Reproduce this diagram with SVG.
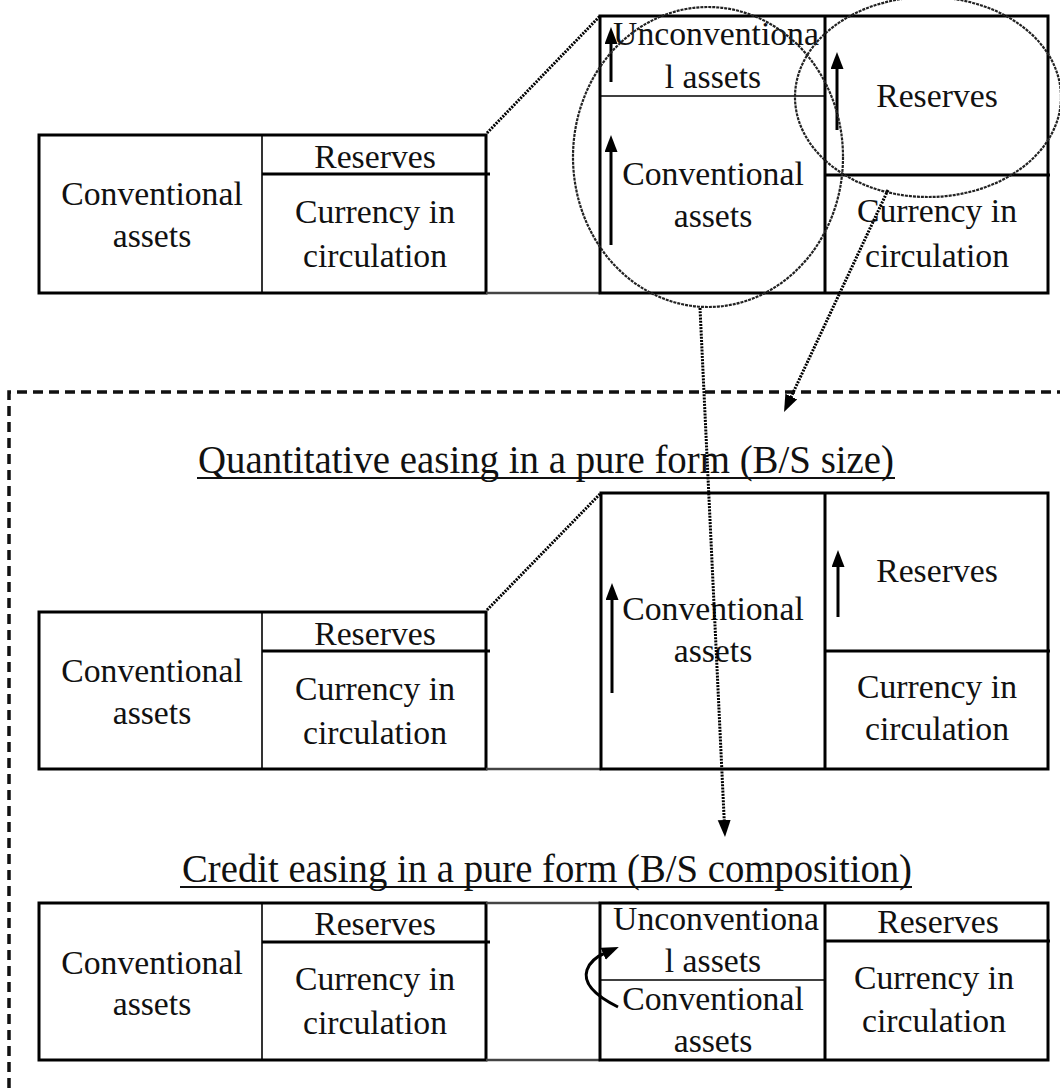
<svg xmlns="http://www.w3.org/2000/svg" width="1060" height="1088" viewBox="0 0 1060 1088">
<style>
.t{font-family:"Liberation Serif","Times New Roman",serif;font-size:33.7px;fill:#111;text-anchor:middle}
.ttl{font-family:"Liberation Serif","Times New Roman",serif;font-size:39px;fill:#111}
.ob{fill:none;stroke:#000;stroke-width:3}
.thk{stroke:#000;stroke-width:3}
.thn{stroke:#000;stroke-width:1.6}
.gl{stroke:#444;stroke-width:2.5}
.arr{stroke:#000;stroke-width:3;fill:none;marker-end:url(#ah)}
.dot{stroke:#000;stroke-width:3;stroke-dasharray:2 1.2;fill:none}
.dota{stroke:#000;stroke-width:3;stroke-dasharray:2 1.2;fill:none;marker-end:url(#ah)}
.circ{stroke:#222;stroke-width:2.2;stroke-dasharray:3 1;fill:none}
.ul{stroke:#111;stroke-width:2.2}
</style>
<defs>
<marker id="ah" markerUnits="userSpaceOnUse" markerWidth="20" markerHeight="14" refX="2" refY="6.5" orient="auto">
<path d="M0,0 L17,6.5 L0,13 z" fill="#000"/>
</marker>
</defs>
<rect width="1060" height="1088" fill="#fff"/>

<!-- dashed frame -->
<path id="frame" d="M9,1088 L9,392 L1060,392" fill="none" stroke="#111" stroke-width="3.5" stroke-dasharray="10 6"/>

<!-- TOP SECTION -->
<g id="top-left">
<rect class="ob" x="39" y="135" width="447" height="158"/>
<line class="thn" x1="262" y1="135" x2="262" y2="293"/>
<line class="thk" x1="262" y1="174" x2="490" y2="174"/>
<text class="t" x="152" y="205">Conventional</text>
<text class="t" x="152" y="247">assets</text>
<text class="t" x="375" y="168">Reserves</text>
<text class="t" x="375" y="223">Currency in</text>
<text class="t" x="375" y="267">circulation</text>
</g>
<line class="gl" x1="486" y1="293" x2="600" y2="293"/>
<g id="top-right">
<rect class="ob" x="600" y="16" width="448" height="277"/>
<line class="thk" x1="825" y1="16" x2="825" y2="293"/>
<line class="thn" x1="600" y1="96" x2="825" y2="96"/>
<line class="thk" x1="825" y1="175" x2="1050" y2="175"/>
<text class="t" x="716" y="45">Unconventiona</text>
<text class="t" x="713" y="88">l assets</text>
<text class="t" x="713" y="185">Conventional</text>
<text class="t" x="713" y="227">assets</text>
<text class="t" x="937" y="107">Reserves</text>
<text class="t" x="937" y="222">Currency in</text>
<text class="t" x="937" y="267">circulation</text>
<line class="arr" x1="611" y1="82" x2="611" y2="42"/>
<line class="arr" x1="611" y1="245" x2="611" y2="150"/>
<line class="arr" x1="837" y1="130" x2="837" y2="67"/>
</g>
<g id="highlight-circles">
<ellipse class="circ" cx="708" cy="157" rx="135" ry="150"/>
<ellipse class="circ" cx="928" cy="97" rx="133" ry="100"/>
</g>

<!-- MIDDLE SECTION -->
<g id="title-qe">
<text class="ttl" x="198" y="473" textLength="696" lengthAdjust="spacingAndGlyphs">Quantitative easing in a pure form (B/S size)</text>
<line class="ul" x1="197" y1="478" x2="895" y2="478"/>
</g>
<g id="mid-left">
<rect class="ob" x="39" y="612" width="447" height="157"/>
<line class="thn" x1="262" y1="612" x2="262" y2="769"/>
<line class="thk" x1="262" y1="651" x2="490" y2="651"/>
<text class="t" x="152" y="682">Conventional</text>
<text class="t" x="152" y="724">assets</text>
<text class="t" x="375" y="645">Reserves</text>
<text class="t" x="375" y="700">Currency in</text>
<text class="t" x="375" y="744">circulation</text>
</g>
<line class="gl" x1="486" y1="769" x2="601" y2="769"/>
<g id="mid-right">
<rect class="ob" x="601" y="493" width="447" height="276"/>
<line class="thk" x1="825" y1="493" x2="825" y2="769"/>
<line class="thk" x1="825" y1="651" x2="1050" y2="651"/>
<text class="t" x="713" y="620">Conventional</text>
<text class="t" x="713" y="662">assets</text>
<text class="t" x="937" y="582">Reserves</text>
<text class="t" x="937" y="698">Currency in</text>
<text class="t" x="937" y="740">circulation</text>
<line class="arr" x1="612" y1="693" x2="612" y2="598"/>
<line class="arr" x1="838" y1="617" x2="838" y2="565"/>
</g>

<!-- BOTTOM SECTION -->
<g id="title-ce">
<text class="ttl" x="182" y="882" textLength="730" lengthAdjust="spacingAndGlyphs">Credit easing in a pure form (B/S composition)</text>
<line class="ul" x1="180" y1="887" x2="912" y2="887"/>
</g>
<g id="bot-left">
<rect class="ob" x="39" y="903" width="447" height="157"/>
<line class="thn" x1="262" y1="903" x2="262" y2="1060"/>
<line class="thk" x1="262" y1="942" x2="490" y2="942"/>
<text class="t" x="152" y="974">Conventional</text>
<text class="t" x="152" y="1015">assets</text>
<text class="t" x="375" y="935">Reserves</text>
<text class="t" x="375" y="990">Currency in</text>
<text class="t" x="375" y="1034">circulation</text>
</g>
<line class="gl" x1="486" y1="903" x2="600" y2="903"/>
<line class="gl" x1="486" y1="1060" x2="600" y2="1060"/>
<g id="bot-right">
<rect class="ob" x="600" y="903" width="448" height="157"/>
<line class="thk" x1="825" y1="903" x2="825" y2="1060"/>
<line class="thn" x1="600" y1="980" x2="825" y2="980"/>
<line class="thk" x1="825" y1="941" x2="1050" y2="941"/>
<text class="t" x="716" y="930">Unconventiona</text>
<text class="t" x="713" y="972">l assets</text>
<text class="t" x="713" y="1010">Conventional</text>
<text class="t" x="713" y="1052">assets</text>
<text class="t" x="938" y="933">Reserves</text>
<text class="t" x="934" y="989">Currency in</text>
<text class="t" x="934" y="1032">circulation</text>
<path class="arr" d="M618,1007 C600,998 582,985 587,970 C590,961 598,956 605,953"/>
</g>

<!-- CONNECTORS -->
<g id="connectors">
<line class="dot" x1="487" y1="133" x2="600" y2="16"/>
<line class="dot" x1="487" y1="610" x2="601" y2="493"/>
<line class="dota" x1="888" y1="190" x2="790.4" y2="398.4"/>
<line class="dota" x1="700" y1="308" x2="724.3" y2="822"/>
</g>
</svg>
